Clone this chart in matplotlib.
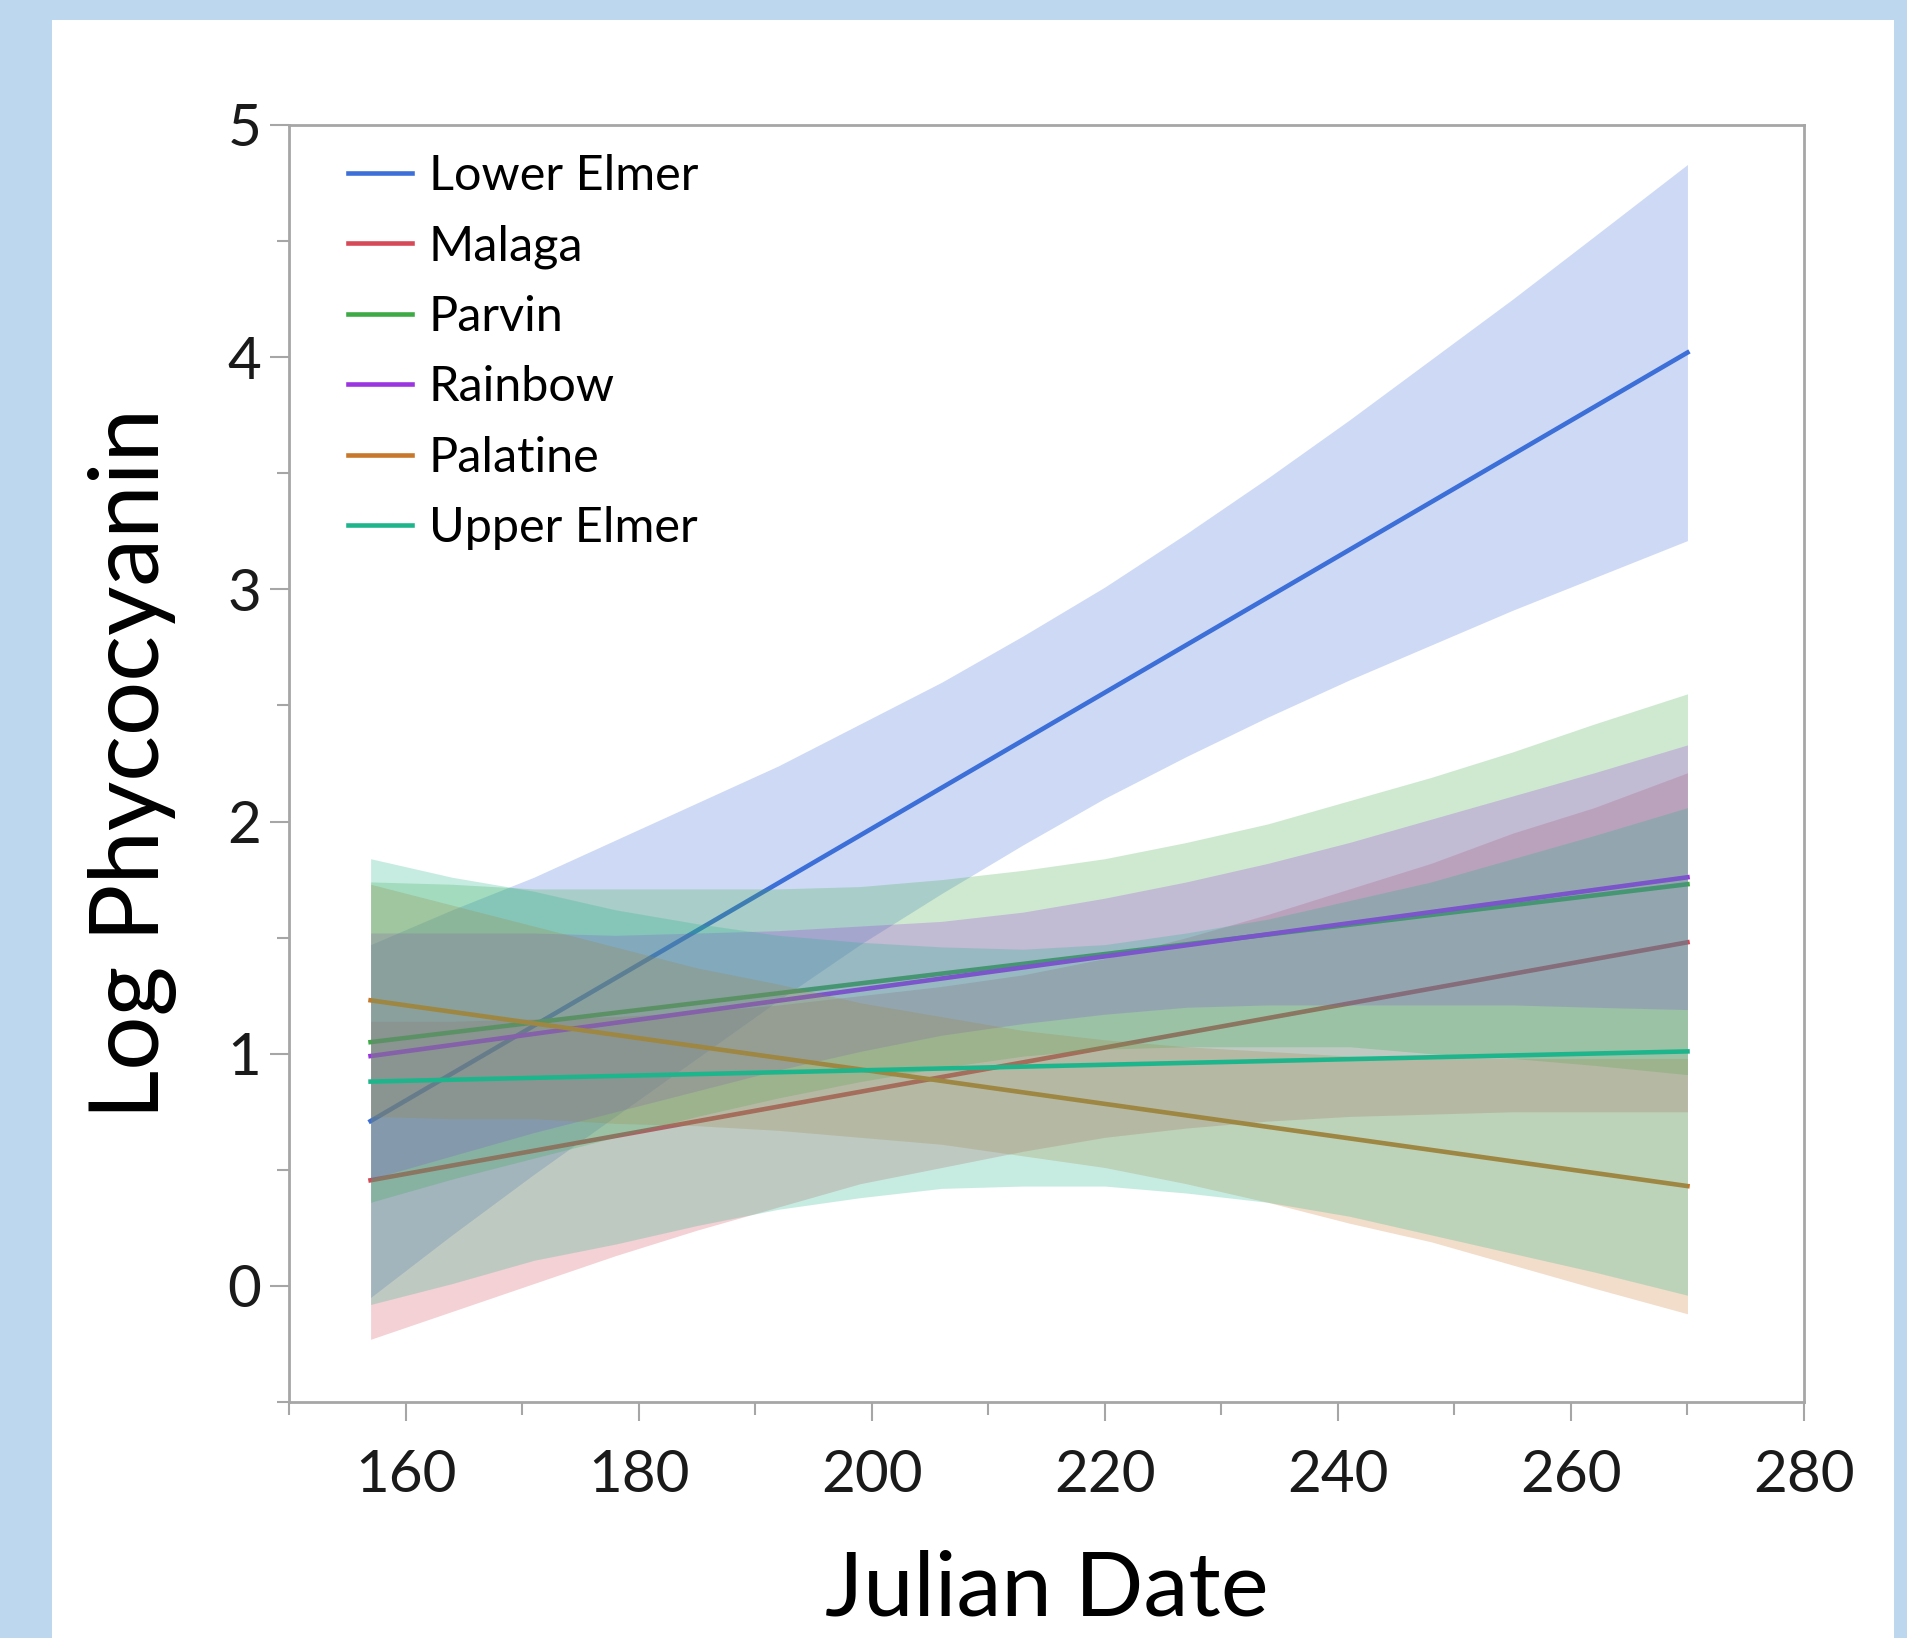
import matplotlib
matplotlib.use("Agg")
import matplotlib.pyplot as plt
from matplotlib.patches import Rectangle
from matplotlib.ticker import MultipleLocator

plt.rcParams['font.family'] = ['Lato', 'DejaVu Sans']

## data: straight fit per lake (ends) and its 95% band
julian = [157, 164, 171, 178, 185, 192, 199, 206, 213, 220, 227, 234, 241, 248, 255, 262, 270]

lakes = ['Lower Elmer', 'Malaga', 'Parvin', 'Rainbow', 'Palatine', 'Upper Elmer']
colors = ['#3D6FD8', '#D64A58', '#3DAA45', '#9B35E0', '#C8782A', '#1FB58C']

fit_start = [0.71, 0.455, 1.05, 0.99, 1.23, 0.88]   # at day 157
fit_end = [4.02, 1.48, 1.73, 1.76, 0.43, 1.01]      # at day 270

lower_elmer_hi = [1.47, 1.62, 1.76, 1.92, 2.08, 2.24, 2.42, 2.60, 2.80, 3.01, 3.24, 3.48, 3.73, 3.99, 4.25, 4.52, 4.83]
lower_elmer_lo = [-0.05, 0.22, 0.48, 0.73, 0.98, 1.23, 1.47, 1.69, 1.90, 2.10, 2.28, 2.45, 2.61, 2.76, 2.91, 3.05, 3.21]

malaga_hi = [1.14, 1.14, 1.15, 1.16, 1.18, 1.21, 1.25, 1.29, 1.34, 1.41, 1.50, 1.60, 1.71, 1.82, 1.95, 2.06, 2.21]
malaga_lo = [-0.23, -0.11, 0.01, 0.13, 0.24, 0.34, 0.44, 0.51, 0.58, 0.64, 0.68, 0.71, 0.73, 0.74, 0.75, 0.75, 0.75]

parvin_hi = [1.74, 1.73, 1.71, 1.71, 1.71, 1.71, 1.72, 1.75, 1.79, 1.84, 1.91, 1.99, 2.09, 2.19, 2.30, 2.42, 2.55]
parvin_lo = [0.36, 0.46, 0.55, 0.64, 0.73, 0.81, 0.88, 0.94, 0.99, 1.02, 1.03, 1.03, 1.03, 1.00, 0.98, 0.95, 0.91]

rainbow_hi = [1.52, 1.52, 1.52, 1.51, 1.52, 1.53, 1.55, 1.57, 1.61, 1.67, 1.74, 1.82, 1.91, 2.01, 2.11, 2.21, 2.33]
rainbow_lo = [0.46, 0.56, 0.66, 0.75, 0.84, 0.93, 1.01, 1.08, 1.13, 1.17, 1.20, 1.21, 1.21, 1.21, 1.21, 1.20, 1.19]

palatine_hi = [1.73, 1.64, 1.55, 1.46, 1.37, 1.30, 1.22, 1.16, 1.10, 1.06, 1.03, 1.01, 0.99, 0.985, 0.98, 0.98, 0.98]
palatine_lo = [0.73, 0.72, 0.72, 0.70, 0.69, 0.67, 0.64, 0.61, 0.56, 0.51, 0.44, 0.36, 0.27, 0.19, 0.09, -0.01, -0.12]

upper_elmer_hi = [1.84, 1.76, 1.70, 1.62, 1.56, 1.51, 1.48, 1.46, 1.45, 1.47, 1.52, 1.58, 1.66, 1.74, 1.84, 1.94, 2.06]
upper_elmer_lo = [-0.08, 0.01, 0.11, 0.18, 0.26, 0.33, 0.38, 0.42, 0.43, 0.43, 0.40, 0.36, 0.30, 0.22, 0.14, 0.06, -0.04]

highs = [lower_elmer_hi, malaga_hi, parvin_hi, rainbow_hi, palatine_hi, upper_elmer_hi]
lows = [lower_elmer_lo, malaga_lo, parvin_lo, rainbow_lo, palatine_lo, upper_elmer_lo]

W, H = 1907, 1638
fig = plt.figure(figsize=(W / 100, H / 100), dpi=100)
fig.patch.set_facecolor('#BDD7EE')
# white panel sitting on the blue slide background
fig.patches.append(Rectangle((52 / W, 0), (1894 - 52) / W, 1 - 20 / H,
                             transform=fig.transFigure, facecolor='white',
                             edgecolor='none', zorder=-10))

ax = fig.add_axes([289 / W, 1 - 1402 / H, (1804 - 289) / W, (1402 - 125) / H])
ax.set_zorder(1)
ax.set_facecolor('white')

z = 2
for i, name in enumerate(lakes):
    col = colors[i]
    ax.fill_between(julian, lows[i], highs[i], color=col, alpha=0.25,
                    linewidth=0, zorder=z)
    ax.plot([julian[0], julian[-1]], [fit_start[i], fit_end[i]], color=col,
            lw=3.3, label=name, zorder=z + 1)
    z += 2

ax.set_xlim(150, 280)
ax.set_ylim(-0.5, 5)
ax.xaxis.set_major_locator(MultipleLocator(20))
ax.xaxis.set_minor_locator(MultipleLocator(10))
ax.yaxis.set_major_locator(MultipleLocator(1))
ax.yaxis.set_minor_locator(MultipleLocator(0.5))

for s in ax.spines.values():
    s.set_color('#A6A6A6')
    s.set_linewidth(2)
ax.tick_params(which='major', length=14, width=1.5, color='#A6A6A6',
               labelsize=42, labelcolor='#1a1a1a')
ax.tick_params(which='minor', length=9, width=1.5, color='#A6A6A6')
ax.tick_params(axis='x', which='major', pad=20)
ax.tick_params(axis='y', which='major', pad=6)

ax.set_xlabel('Julian Date', fontsize=65, labelpad=34)
ax.set_ylabel('Log Phycocyanin', fontsize=69, labelpad=36)

ax.legend(loc='upper left', bbox_to_anchor=(0.02, 1.0), frameon=False,
          fontsize=35, handlelength=1.3, handletextpad=0.35,
          labelspacing=0.54, borderaxespad=0.2)

fig.savefig('out.png', dpi=100, facecolor=fig.get_facecolor())
